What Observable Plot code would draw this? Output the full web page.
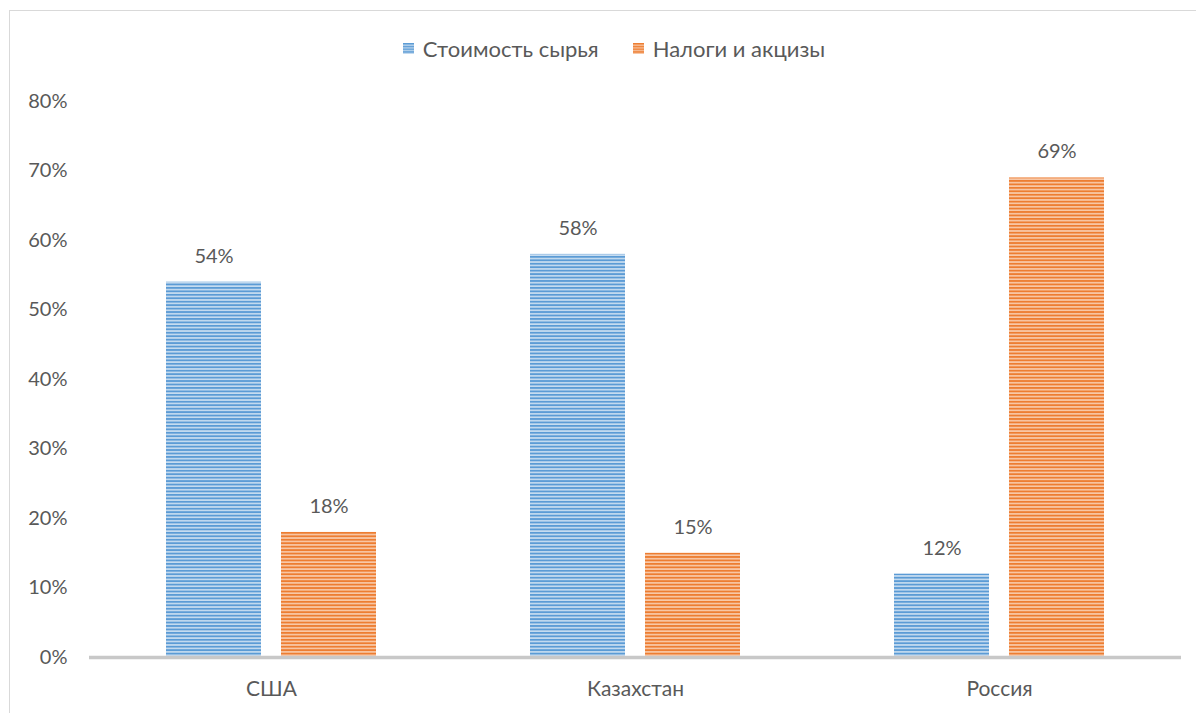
<!DOCTYPE html>
<html>
<head>
<meta charset="utf-8">
<script src="https://cdn.jsdelivr.net/npm/d3@7"></script>
<script src="https://cdn.jsdelivr.net/npm/@observablehq/plot@0.6"></script>
<style>
  html, body { margin: 0; padding: 0; background: #fff; overflow: hidden; width: 1196px; height: 713px; }
  #frame { position: absolute; left: 9px; top: 10px; width: 1200px; height: 720px; border: 1px solid #d9d9d9; box-sizing: border-box; }
  #legend { position: absolute; left: 0; top: 32px; width: 1228px; text-align: center; font-family: Lato, sans-serif; font-size: 22px; color: #595959; white-space: nowrap; }
  #legend span.item { display: inline-flex; align-items: center; margin: 0 17px; }
  #legend svg { margin-right: 9px; }
  #chart { position: absolute; left: 0; top: 80px; }
</style>
</head>
<body>
<div id="frame"></div>
<div id="legend"></div>
<div id="chart"></div>
<script>
const countries = ["США", "Казахстан", "Россия"];
const seriesNames = ["Стоимость сырья", "Налоги и акцизы"];
const rawMaterialCost = [0.54, 0.58, 0.12];
const taxesAndExcise = [0.18, 0.15, 0.69];
const yTicks = [0, 0.1, 0.2, 0.3, 0.4, 0.5, 0.6, 0.7, 0.8];
const seriesColors = ["#5B9BD5", "#ED7D31"];
const seriesLight = ["#c6dcf0", "#f8c9a8"];
const patternIds = ["stripeBlue", "stripeOrange"];

const data = [];
countries.forEach((c, i) => {
  data.push({country: c, series: seriesNames[0], value: rawMaterialCost[i]});
  data.push({country: c, series: seriesNames[1], value: taxesAndExcise[i]});
});

const fmt = d3.format(".0%");
const font = "Lato, sans-serif";

const plot = Plot.plot({
  width: 1196,
  height: 633,
  marginLeft: 89,
  marginRight: 15,
  marginTop: 21,
  marginBottom: 56,
  style: {fontFamily: font, fontSize: "20px", color: "#595959", background: "transparent"},
  fx: {domain: countries, paddingInner: 0, paddingOuter: 0, label: null, axis: "bottom", tickSize: 0, tickPadding: 24},
  x: {domain: seriesNames, paddingInner: 0.174, paddingOuter: 0.661, axis: null},
  y: {domain: [0, 0.8], ticks: yTicks, tickFormat: fmt, tickSize: 0, tickPadding: 22, label: null},
  color: {domain: seriesNames, range: patternIds.map(id => `url(#${id})`)},
  marks: [
    Plot.barY(data, {fx: "country", x: "series", y: "value", fill: "series"}),
    Plot.ruleY([0], {stroke: "#c8c8c8", strokeWidth: 3.5}),
    Plot.text(data, {fx: "country", x: "series", y: "value", text: d => fmt(d.value), dy: -26, fill: "#595959", fontSize: 20})
  ]
});

// pattern defs
const svg = d3.select(plot);
const defs = svg.insert("defs", ":first-child");
patternIds.forEach((id, i) => {
  const p = defs.append("pattern").attr("id", id).attr("patternUnits", "userSpaceOnUse")
    .attr("width", 8).attr("height", 3.45);
  p.append("rect").attr("width", 8).attr("height", 3.45).attr("fill", seriesLight[i]);
  p.append("rect").attr("width", 8).attr("height", 1.8).attr("fill", seriesColors[i]);
});
svg.selectAll("text").style("fill", "#595959");
svg.selectAll("[aria-label='fx-axis tick label'] text, [aria-label='fx-axis tick label']").style("font-size", "21px");
document.getElementById("chart").appendChild(plot);

// legend
const legend = d3.select("#legend");
seriesNames.forEach((name, i) => {
  const item = legend.append("span").attr("class", "item");
  const s = item.append("svg").attr("width", 11).attr("height", 11);
  const d = s.append("defs").append("pattern").attr("id", "lg" + i).attr("patternUnits", "userSpaceOnUse").attr("width", 11).attr("height", 2.75);
  d.append("rect").attr("width", 11).attr("height", 2.75).attr("fill", seriesLight[i]);
  d.append("rect").attr("width", 11).attr("height", 1.5).attr("fill", seriesColors[i]);
  s.append("rect").attr("width", 11).attr("height", 11).attr("fill", `url(#lg${i})`);
  item.append("span").text(name);
});
</script>
</body>
</html>
